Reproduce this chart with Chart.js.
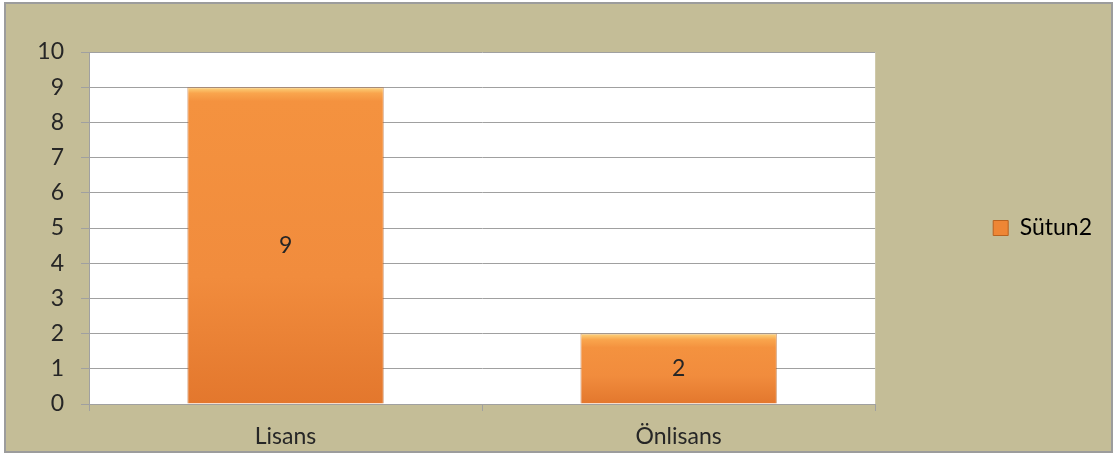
<!DOCTYPE html>
<html>
<head>
<meta charset="utf-8">
<script src="https://cdn.jsdelivr.net/npm/chart.js@4"></script>
<style>
  html, body { margin: 0; padding: 0; background: #fff; }
  #frame {
    position: absolute; left: 4px; top: 2px;
    width: 1105px; height: 447px;
    border: 2px solid #9c9c9c;
    background: #C4BD97;
  }
  #frame canvas { display: block; }
</style>
</head>
<body>
<div id="frame"><canvas id="barChart" width="1105" height="447"></canvas></div>
<script>
// data
const categories = ["Lisans", "Önlisans"];
const seriesName = "Sütun2";
const values = [9, 2];
const yTicks = [0, 1, 2, 3, 4, 5, 6, 7, 8, 9, 10];

const FONT = "Lato, 'Open Sans', sans-serif";
const FSIZE = 23;
const TEXT = "#262626";

// white plot area
const plotBg = {
    id: "plotBg",
    beforeDraw(chart) {
        const a = chart.chartArea, ctx = chart.ctx;
        ctx.save();
        ctx.fillStyle = "#ffffff";
        ctx.fillRect(a.left, a.top, a.right - a.left, a.bottom - a.top);
        ctx.restore();
    }
};

// value in the middle of each bar
const barValues = {
    id: "barValues",
    afterDatasetsDraw(chart) {
        const ctx = chart.ctx;
        ctx.save();
        ctx.font = FSIZE + "px " + FONT;
        ctx.fillStyle = TEXT;
        ctx.textAlign = "center";
        ctx.textBaseline = "middle";
        chart.getDatasetMeta(0).data.forEach((bar, i) => {
            const p = bar.getProps(["x", "y", "base"], true);
            ctx.fillText(chart.data.datasets[0].data[i], p.x, (p.y + p.base) / 2);
        });
        ctx.restore();
    }
};

function barFill(c) {
    const y = c.chart.scales.y;
    if (!y || c.raw === undefined) return "#F39040";
    const top = y.getPixelForValue(c.raw), bottom = y.getPixelForValue(0);
    const h = Math.max(1, bottom - top);
    const g = c.chart.ctx.createLinearGradient(0, top, 0, bottom);
    g.addColorStop(0, "#FCD67E");
    g.addColorStop(Math.min(0.2, 6 / h), "#F9A54D");
    g.addColorStop(Math.min(0.4, 14 / h), "#F4923F");
    g.addColorStop(0.6, "#F18C3D");
    g.addColorStop(1, "#E3772D");
    return g;
}

new Chart(document.getElementById("barChart"), {
    type: "bar",
    data: {
        labels: categories,
        datasets: [{
            label: seriesName,
            data: values,
            backgroundColor: barFill,
            borderColor: "rgba(180,95,35,0.55)",
            borderWidth: 1,
            barPercentage: 0.5,
            categoryPercentage: 1.0
        }]
    },
    options: {
        responsive: false,
        animation: false,
        layout: { padding: { top: 48, right: 9, bottom: 0, left: 0 } },
        plugins: {
            tooltip: { enabled: false },
            legend: {
                position: "right",
                fullSize: false,
                labels: {
                    padding: 118,
                    boxWidth: 15,
                    boxHeight: 15,
                    color: TEXT,
                    font: { family: FONT, size: FSIZE },
                    generateLabels: (chart) => chart.data.datasets.map((ds, i) => ({
                        text: ds.label,
                        fillStyle: "#EE8635",
                        strokeStyle: "#B8621F",
                        lineWidth: 1,
                        datasetIndex: i
                    }))
                }
            }
        },
        scales: {
            x: {
                afterFit(s) { s.height = 47; },
                grid: {
                    offset: true,
                    drawOnChartArea: false,
                    tickLength: 7,
                    color: "#A0A0A0"
                },
                border: { color: "#A0A0A0", width: 1 },
                ticks: { color: TEXT, font: { family: FONT, size: FSIZE }, padding: 12 }
            },
            y: {
                min: 0,
                max: 10,
                afterFit(s) { s.width = 83; },
                afterBuildTicks(s) { s.ticks = yTicks.map(v => ({ value: v })); },
                grid: { color: "#A0A0A0", tickLength: 8 },
                border: { color: "#A0A0A0", width: 1 },
                ticks: { color: TEXT, font: { family: FONT, size: FSIZE }, padding: 17 }
            }
        }
    },
    plugins: [plotBg, barValues]
});
</script>
</body>
</html>
